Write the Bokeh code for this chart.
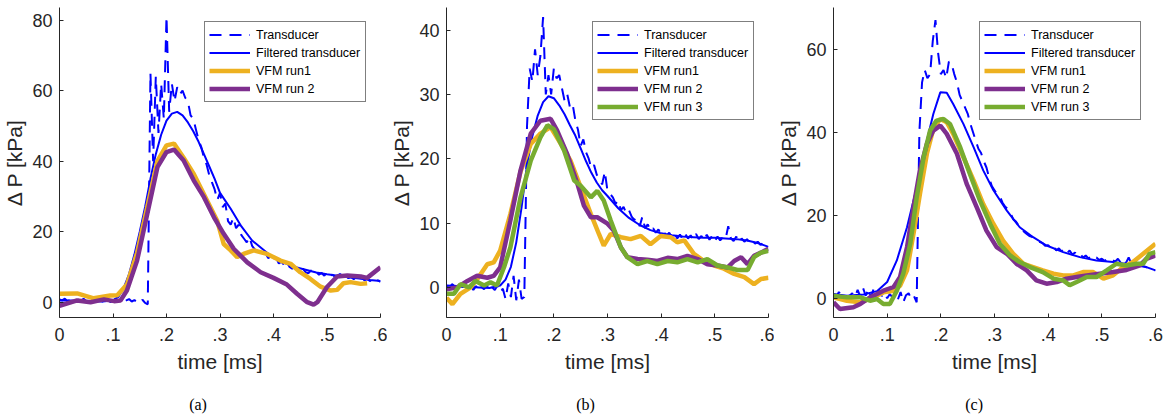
import numpy as np
from bokeh.plotting import figure
from bokeh.layouts import row
from bokeh.models import Range1d, FixedTicker, Legend, LegendItem, LinearAxis
from bokeh.embed import file_html
from bokeh.resources import INLINE

# ---------------- data ----------------
x_ticks = [0, 0.1, 0.2, 0.3, 0.4, 0.5, 0.6]
x_tick_labels = ["0", ".1", ".2", ".3", ".4", ".5", ".6"]

# transducer time grid (ms)
t_trans = [round(0.005 * i, 3) for i in range(121)]

# ---- panel (a)
a_trans = [0.8, 0.5, 1.0, 0.3, 0.6, 0.9, 0.2, 0.7, 0.4, 1.0, 0.3, 0.5, 0.8, 0.1, 0.6, 0.9,
           0.2, 0.5, 0.7, 0.0, 0.4, 0.9, 0.3, 0.6, -0.2, 0.5, 0.9, 0.2, 0.6, 0.1, -0.3, 0.7,
           -0.2, -0.6, 65, 40, 64, 48, 62, 52, 81, 54, 62, 57, 61, 59, 60, 58, 57, 53, 52,
           49, 46, 44, 41, 39, 36, 34, 32, 29, 31, 27, 28, 23, 22, 24, 21, 22, 19, 18, 17,
           18.5, 16, 15, 14.5, 14, 13.5, 14, 12.5, 13, 12, 12.5, 11, 11.5, 10.5, 11.5, 10,
           9.5, 10, 9, 8.8, 9.5, 8.5, 8.2, 9, 8, 8.5, 7.8, 8.3, 7.5, 8.5, 7.5, 7.8, 7.2, 7.6,
           8, 7.0, 7.5, 6.8, 7.2, 6.5, 7.3, 6.6, 7, 6.2, 6.8, 6, 6.5, 5.8, 6.2, 5.8]
a_filt_t = [0, .02, .04, .06, .08, .1, .11, .12, .13, .14, .15, .16, .17, .18, .19, .2, .21,
            .22, .23, .24, .25, .26, .27, .28, .29, .3, .32, .34, .36, .38, .4, .42, .44, .46,
            .48, .5, .52, .54, .56, .58, .6]
a_filt = [0.5, 0.5, 0.4, 0.3, 0.2, 0.5, 1.5, 4, 8, 13.5, 20, 27, 35, 42, 47.5, 51.5, 53.5, 54,
          53, 51, 48.5, 45.5, 42, 38.5, 35, 31, 26.5, 21.5, 17.5, 15, 12.5, 11.2, 10, 9.2, 8.4,
          7.9, 7.5, 7.1, 6.7, 6.3, 6.0]
a_run1_t = [0, .033, .064, .095, .108, .126, .145, .164, .183, .2, .214, .232, .251, .276, .295,
            .307, .32, .332, .344, .363, .388, .413, .432, .45, .469, .488, .507, .519, .531,
            .544, .563, .575]
a_run1 = [2.4, 2.5, 1.1, 1.9, 2, 5, 14, 27, 40, 44.5, 45, 41, 36.4, 28.8, 23, 16.5, 14.7, 12.8,
          13.7, 14.7, 13.7, 11.8, 10.9, 8.5, 6.6, 4.4, 3.3, 3.5, 5.4, 5.7, 5.2, 5.4]
a_run2_t = [0, .033, .058, .083, .102, .114, .126, .145, .164, .183, .2, .214, .232, .251, .27,
            .289, .307, .326, .351, .376, .4, .425, .444, .463, .475, .482, .5, .519, .538, .563,
            .575, .6]
a_run2 = [-1, 0.5, 0, 0.8, 0.3, 0.5, 3.3, 11.8, 25, 38.3, 42.6, 43.3, 40.2, 34.5, 29.8, 24, 19.4,
          15.1, 11.3, 8.5, 6.9, 5, 2.4, 0, -0.7, 0, 4.3, 7.3, 7.6, 7.3, 6.9, 9.9]

# ---- panel (b)
b_trans = [0.3, -0.2, 0.5, 0.2, -0.3, 0.4, 0.0, 0.6, -0.2, 0.3, -0.4, 0.2, -0.5, 0.1, -0.3, 0.4,
           -0.6, 0.0, -0.4, 0.3, -0.8, -0.2, -1.8, 0.6, -1.5, 1.8, -2.0, 1.2, -1.8, -1.5, 25, 34,
           32, 37, 33, 36, 42, 30, 33, 30, 34, 32.5, 33, 31, 29, 30, 28, 28.5, 26, 24.5, 22, 23,
           21, 20, 18.5, 19, 17.5, 17, 16, 18, 15, 14.5, 14, 13, 13.5, 12, 12.5, 11.5, 12, 11,
           10.5, 10.8, 9.5, 11, 9.2, 9.8, 8.8, 9.2, 8.5, 9, 8.2, 8.6, 8, 8.5, 7.8, 8.4, 7.6, 8.2,
           7.5, 8.3, 7.6, 8.1, 7.4, 8.3, 7.5, 8, 7.3, 8.2, 7.4, 8, 7.2, 7.9, 7.3, 7.8, 7.5, 9.5,
           7.6, 7.2, 7.9, 7.0, 7.6, 7.1, 7.5, 6.9, 7.3, 6.8, 7.1, 6.6, 6.9, 6.4, 6.3]
b_filt_t = a_filt_t
b_filt = [0.3, 0.2, 0.1, 0.0, -0.1, 0.3, 1.2, 3.2, 7, 12.5, 19, 23.5, 26.7, 28.8, 29.7, 29.4,
          28.3, 26.9, 25.2, 23.6, 21.6, 19.6, 17.8, 16.3, 15.1, 14.2, 12.3, 10.8, 9.7, 8.9, 8.4,
          8.1, 7.9, 7.8, 7.7, 7.7, 7.6, 7.5, 7.3, 6.9, 6.3]
b_run1_t = [0, .011, .026, .045, .06, .076, .088, .1, .119, .138, .157, .175, .194, .213, .231,
            .25, .269, .284, .293, .306, .325, .343, .362, .38, .399, .418, .43, .443, .461, .48,
            .499, .517, .536, .555, .573, .586, .6]
b_run1 = [-1.6, -2.6, -1, 0, 1.6, 3.6, 3.9, 5.7, 11.4, 18, 22.3, 23.9, 24.9, 22.3, 19.7, 15.6,
          11.4, 8.3, 6.5, 8.3, 7.8, 7.5, 8, 6.7, 8, 7.8, 7, 7.3, 5.2, 4.1, 3.4, 2.9, 2.1, 1.6, 0.5,
          1.3, 1.5]
b_run2_t = [0, .02, .039, .057, .076, .088, .1, .119, .138, .157, .175, .194, .206, .225, .244,
            .256, .269, .281, .3, .312, .325, .337, .356, .374, .393, .412, .43, .449, .468, .486,
            .505, .524, .536, .549, .561, .573, .586, .6]
b_run2 = [-0.3, 0, 1, 1.8, 1.5, 1.8, 3.1, 10.4, 18.2, 23.9, 25.9, 26.2, 24.4, 20.7, 16.1, 12.7,
          10.9, 10.9, 9.9, 8.8, 6.2, 4.7, 4.4, 4.3, 4.1, 4.6, 4.4, 4.9, 4.4, 3.6, 3.4, 3.1, 4.1,
          4.7, 3.6, 4.9, 5.4, 6]
b_run3_t = [0, .014, .026, .042, .054, .07, .082, .094, .107, .119, .138, .157, .175, .188, .2,
            .219, .238, .25, .269, .281, .293, .306, .325, .337, .356, .374, .393, .412, .43,
            .449, .468, .486, .505, .524, .542, .561, .573, .586, .6]
b_run3 = [-1, -1, 0.5, 0, 1, 0.3, 0.8, 0.3, 3.1, 6.2, 14, 19.7, 23.3, 25.2, 24.6, 21.3, 16.6,
          15.8, 14, 15, 13.5, 10.4, 6.2, 4.7, 3.6, 4.1, 3.6, 4.1, 3.9, 4.4, 3.9, 4.4, 3.4, 3.1,
          2.7, 2.7, 4.7, 5.4, 5.7]

# ---- panel (c)
c_trans = [1.0, 0.2, 1.5, 0.5, 0.8, -0.2, 0.6, 1.2, 0.3, 2.0, 0.4, 2.5, 0.6, 2.2, 0.2, 2.4, 0.8,
           1.8, 0.5, 1.3, 0.0, 1.0, 0.2, 0.8, -0.3, 1.5, -1.0, 0.7, 1.2, -0.2, 0.5, -1.0, 40, 52,
           55, 53, 54, 62, 67, 59, 54, 55, 53, 57, 56.5, 54, 52, 49, 47.5, 46, 44.5, 42, 40, 38,
           36, 35, 33, 31.5, 29, 27, 26, 25, 24.5, 23, 22, 21.5, 20.5, 19, 18.5, 17.5, 17, 16,
           15.5, 15, 14.8, 14, 13.8, 13.5, 13.2, 12.6, 12.8, 12, 12.5, 11.5, 12, 11.3, 11.8, 10.8,
           11.5, 10.5, 11, 10.2, 10.6, 9.8, 10.3, 9.6, 10, 9.4, 9.8, 9.2, 9.5, 9.0, 9.4, 8.9, 9.2,
           8.8, 9.5, 8.6, 9.6, 8.5, 9.8, 8.4, 8.6, 8.0, 8.3, 7.8, 7.6, 7.3, 7.0, 6.6, 6.8]
c_filt_t = [0, .025, .056, .081, .1, .118, .137, .155, .174, .186, .199, .211, .223, .242, .261,
            .279, .298, .323, .347, .372, .397, .428, .459, .49, .521, .552, .583, .6]
c_filt = [1, 0.6, 0.9, 1.7, 3.9, 9.1, 17.1, 26.7, 38, 44.4, 49.6, 49.5, 46.8, 42, 36.4, 30.8, 26,
          21.1, 17.1, 14.7, 12.7, 11.1, 9.9, 9.1, 8.7, 8.1, 7.5, 6.7]
c_run1_t = [0, .025, .05, .074, .093, .112, .124, .137, .149, .161, .174, .186, .199, .211, .223,
            .242, .261, .279, .298, .316, .335, .354, .372, .39, .41, .428, .447, .465, .484,
            .503, .521, .54, .558, .577, .6]
c_run1 = [0.2, -0.6, -1, 0.2, 1.4, 1.8, 3, 6.7, 15.5, 25.1, 34.8, 40.8, 43.2, 42.4, 39.6, 34,
          28.4, 22.7, 17.9, 13.9, 10.7, 8.3, 7.5, 6.7, 5.9, 5.5, 5.5, 6.3, 6.3, 4.7, 5.5, 7.5,
          8.7, 10.7, 13.1]
c_run2_t = [0, .012, .037, .05, .068, .081, .093, .112, .124, .137, .149, .161, .174, .186, .199,
            .211, .23, .248, .267, .285, .304, .323, .341, .36, .378, .397, .416, .434, .453,
            .472, .496, .521, .546, .571, .583, .6]
c_run2 = [-1, -2.6, -2.2, -1.4, 0.2, 1, 1.8, 2.7, 5.1, 12.3, 21.9, 30.8, 37.2, 40.4, 41.6, 39.6,
          34.8, 27.6, 21.9, 16.3, 12.3, 10.7, 8.3, 6.7, 4.3, 3.5, 3.9, 4.7, 5.1, 5.5, 5.9, 6.3,
          6.8, 7.9, 9.5, 10.3]
c_run3_t = [0, .025, .05, .068, .081, .093, .105, .118, .13, .143, .155, .168, .18, .192, .205,
            .217, .236, .254, .273, .292, .31, .329, .347, .366, .39, .41, .428, .44, .453, .472,
            .49, .509, .527, .546, .565, .577, .589, .6]
c_run3 = [0.6, 0.2, 0.2, -0.6, -0.2, -1.4, -1.4, 1.8, 5.9, 13.1, 24.3, 34, 40.4, 42.8, 43.2, 42,
          36.4, 30, 23.5, 17.9, 13.1, 10.3, 8.7, 7.5, 6.3, 4.7, 4.3, 3.1, 3.9, 5.1, 5.1, 6.7,
          8.3, 7.9, 8.3, 8.3, 10.7, 11.1]

legend_labels = ["Transducer", "Filtered transducer", "VFM run1", "VFM run 2", "VFM run 3"]
captions = ["(a)", "(b)", "(c)"]
caption_x = [0.259, 0.259, 0.262]   # time position under which each caption is centred

# ---------------- style ----------------
FONT = "Liberation Sans"
SERIF = "Liberation Serif"
AX = "#262626"
BLUE = "#0000ff"
ORANGE = "#edb120"
PURPLE = "#7e2f8e"
GREEN = "#77ac30"
RUN_COLORS = [ORANGE, PURPLE, GREEN]


def make_panel(width, bl, br, yr, yticks, trans, ft, fv, runs, caption, cap_x):
    p = figure(width=width, height=416, x_range=Range1d(0, 0.6), y_range=Range1d(*yr),
               output_backend="svg", toolbar_location=None,
               min_border_left=bl, min_border_right=br, min_border_top=7,
               min_border_bottom=99)
    p.outline_line_color = None
    p.grid.visible = False
    p.background_fill_color = "white"
    p.border_fill_color = "white"

    r_tr = p.line(t_trans, trans, line_color=BLUE, line_width=2, line_dash="12 8")
    r_f = p.line(ft, fv, line_color=BLUE, line_width=2)
    rr = []
    for i, (rt, rv) in enumerate(runs):
        rr.append(p.line(rt, rv, line_color=RUN_COLORS[i], line_width=4.5))

    for ax in (p.xaxis[0], p.yaxis[0]):
        ax.axis_line_color = AX
        ax.axis_line_width = 1
        ax.major_tick_line_color = AX
        ax.major_tick_in = 4
        ax.major_tick_out = 0
        ax.minor_tick_line_color = None
        ax.major_label_text_font = FONT
        ax.major_label_text_font_size = "18px"
        ax.major_label_text_color = AX
        ax.axis_label_text_font = FONT
        ax.axis_label_text_font_size = "21px"
        ax.axis_label_text_font_style = "normal"
        ax.axis_label_text_color = AX

    p.xaxis.ticker = FixedTicker(ticks=x_ticks)
    p.xaxis.major_label_overrides = {t: s for t, s in zip(x_ticks, x_tick_labels)}
    p.xaxis.major_label_standoff = 10
    p.xaxis.axis_label = "time [ms]"
    p.xaxis.axis_label_standoff = 6

    p.yaxis.ticker = FixedTicker(ticks=yticks)
    p.yaxis.major_label_standoff = 7
    p.yaxis.axis_label = "Δ P [kPa]"
    p.yaxis.axis_label_standoff = 3

    renderers = [r_tr, r_f] + rr
    items = [LegendItem(label=legend_labels[i], renderers=[r]) for i, r in enumerate(renderers)]
    leg = Legend(items=items, location="top_right", margin=14, padding=4, spacing=1,
                 label_height=17, glyph_height=17, glyph_width=41, label_standoff=6,
                 label_width=105, label_text_font=FONT, label_text_font_size="12.5px",
                 label_text_color="black", border_line_color="black", border_line_width=1,
                 background_fill_color="white", background_fill_alpha=1.0)
    p.add_layout(leg)

    # sub-figure caption, drawn as a bare axis below the time axis
    cap = LinearAxis(ticker=FixedTicker(ticks=[cap_x]),
                     major_label_overrides={cap_x: caption},
                     axis_line_color=None, major_tick_line_color=None,
                     minor_tick_line_color=None, major_tick_in=0, major_tick_out=0,
                     major_label_standoff=20, major_label_text_font=SERIF,
                     major_label_text_font_size="16px", major_label_text_color="black")
    p.add_layout(cap, "below")
    return p


pa = make_panel(387, 59, 7, (-4.34, 83.6), [0, 20, 40, 60, 80], a_trans, a_filt_t, a_filt,
                [(a_run1_t, a_run1), (a_run2_t, a_run2)], captions[0], caption_x[0])
pb = make_panel(387, 59, 6, (-4.68, 43.5), [0, 10, 20, 30, 40], b_trans, b_filt_t, b_filt,
                [(b_run1_t, b_run1), (b_run2_t, b_run2), (b_run3_t, b_run3)], captions[1],
                caption_x[1])
pc = make_panel(394, 59, 13, (-4.65, 70.05), [0, 20, 40, 60], c_trans, c_filt_t, c_filt,
                [(c_run1_t, c_run1), (c_run2_t, c_run2), (c_run3_t, c_run3)], captions[2],
                caption_x[2])

layout = row(pa, pb, pc)
open("out.html", "w").write(file_html(layout, INLINE))
